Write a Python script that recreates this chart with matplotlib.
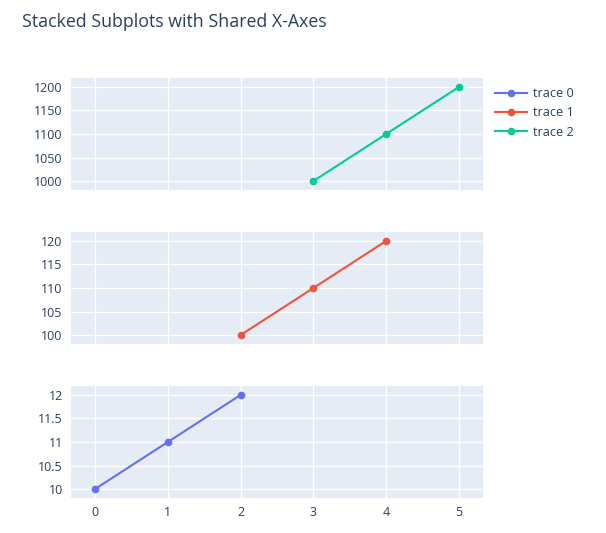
import matplotlib
matplotlib.use("Agg")
import matplotlib.pyplot as plt
from matplotlib.lines import Line2D

plt.rcParams["font.family"] = ["Open Sans", "DejaVu Sans"]

# data
x0 = [0, 1, 2]
y0 = [10, 11, 12]
x1 = [2, 3, 4]
y1 = [100, 110, 120]
x2 = [3, 4, 5]
y2 = [1000, 1100, 1200]
names = ["trace 0", "trace 1", "trace 2"]
colors = ["#636EFA", "#EF553B", "#00CC96"]

BG = "#E5ECF6"
INK = "#2a3f5f"
W, H = 606, 533

fig = plt.figure(figsize=(W / 100, H / 100), dpi=100)
fig.patch.set_facecolor("white")


def panel(top, bottom):
    return fig.add_axes([71 / W, 1 - bottom / H, 412 / W, (bottom - top) / H])


ax_top = panel(78, 190)
ax_mid = panel(232, 344)
ax_bot = panel(386, 498)

specs = [
    (ax_top, x2, y2, colors[2], (981, 1219), [1000, 1050, 1100, 1150, 1200]),
    (ax_mid, x1, y1, colors[1], (98.1, 121.9), [100, 105, 110, 115, 120]),
    (ax_bot, x0, y0, colors[0], (9.81, 12.19), [10, 10.5, 11, 11.5, 12]),
]

for ax, xs, ys, c, ylim, yt in specs:
    ax.set_facecolor(BG)
    ax.plot(xs, ys, "-o", color=c, lw=1.5, ms=4.5, zorder=3)
    ax.set_xlim(-0.33, 5.33)
    ax.set_ylim(*ylim)
    ax.set_xticks(range(6))
    ax.set_yticks(yt)
    ax.set_yticklabels(["%g" % v for v in yt])
    ax.grid(True, color="white", lw=1)
    ax.set_axisbelow(True)
    for s in ax.spines.values():
        s.set_visible(False)
    ax.tick_params(length=0, colors=INK, labelsize=9, pad=6)
    if ax is not ax_bot:
        ax.tick_params(labelbottom=False)

fig.text(22 / W, 1 - 22 / H, "Stacked Subplots with Shared X-Axes",
         fontsize=12.8, color=INK, va="center", ha="left")

handles = [Line2D([], [], color=c, lw=1.5, marker="o", ms=4.5) for c in colors]
fig.legend(handles, names, loc="upper left", bbox_to_anchor=(490 / W, 1 - 82 / H),
           frameon=False, fontsize=9.2, labelcolor=INK, handlelength=2.5,
           handletextpad=0.5, labelspacing=0.5, borderaxespad=0)

fig.savefig("out.png", dpi=100, facecolor="white")
